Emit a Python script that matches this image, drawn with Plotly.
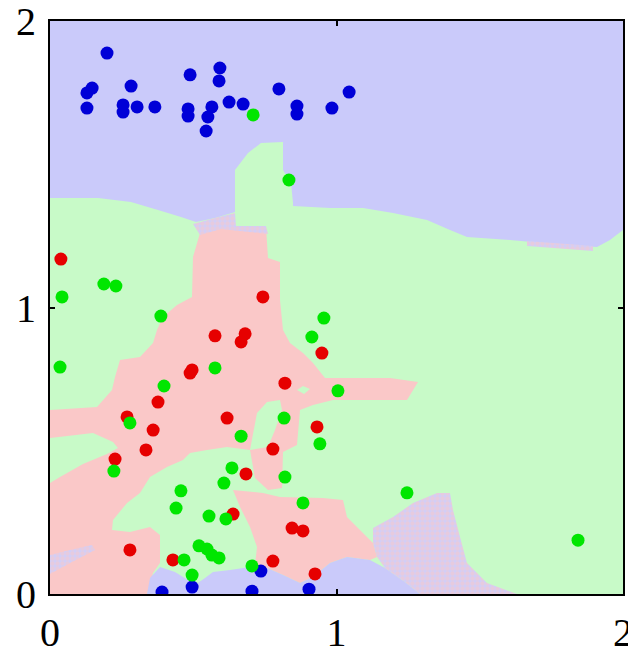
import plotly.graph_objects as go

# ---------------- class samples (data units) ----------------
blue_x = [0.199, 0.147, 0.129, 0.129, 0.283, 0.255, 0.255, 0.304, 0.366, 0.489, 0.482, 0.482,
          0.593, 0.590, 0.565, 0.551, 0.545, 0.625, 0.674, 0.799, 0.862, 0.862, 1.044, 0.984,
          0.391, 0.496, 0.705, 0.736, 0.904]
blue_y = [1.888, 1.766, 1.749, 1.696, 1.773, 1.707, 1.682, 1.700, 1.700, 1.812, 1.693, 1.668,
          1.836, 1.791, 1.700, 1.665, 1.616, 1.717, 1.710, 1.763, 1.703, 1.675, 1.752, 1.696,
          0.007, 0.024, 0.010, 0.080, 0.017]

green_x = [0.709, 0.834, 0.042, 0.188, 0.230, 0.387, 0.035, 0.576, 0.398, 0.279, 0.667, 0.817,
           0.635, 0.607, 0.820, 0.223, 0.457, 0.440, 0.555, 0.614, 0.883, 0.520, 0.548, 0.565,
           0.590, 0.468, 0.496, 0.705, 0.956, 0.914, 1.005, 0.942, 1.246, 1.843]
green_y = [1.672, 1.445, 1.037, 1.082, 1.075, 0.970, 0.792, 0.789, 0.726, 0.597, 0.551, 0.614,
           0.440, 0.387, 0.408, 0.429, 0.360, 0.300, 0.272, 0.262, 0.318, 0.168, 0.157, 0.136,
           0.126, 0.119, 0.066, 0.098, 0.963, 0.897, 0.709, 0.524, 0.353, 0.188]

red_x = [0.038, 0.743, 0.576, 0.681, 0.667, 0.496, 0.489, 0.949, 0.820, 0.377, 0.269, 0.360,
         0.618, 0.335, 0.227, 0.778, 0.932, 0.684, 0.639, 0.845, 0.883, 0.279, 0.429, 0.778, 0.925]
red_y = [1.169, 1.037, 0.901, 0.908, 0.880, 0.782, 0.771, 0.841, 0.736, 0.670, 0.618, 0.572,
         0.614, 0.503, 0.471, 0.506, 0.583, 0.419, 0.279, 0.230, 0.220, 0.154, 0.119, 0.115, 0.070]

tick_vals = [0, 1, 2]
tick_text = ["0", "1", "2"]

# ---------------- decision regions (polygon vertices, data units) ----------------
blue_top_x = [0, 2, 2, 1.9546, 1.9092, 1.7801, 1.7208, 1.6056, 1.4555, 1.3962, 1.3159, 1.1972,
              1.0925, 0.9773, 0.8482, 0.8482, 0.8412, 0.8133, 0.8133, 0.7365, 0.6911, 0.6457,
              0.6457, 0.5759, 0.5096, 0.4572, 0.3770, 0.2827, 0.1675, 0]
blue_top_y = [2, 2, 1.2705, 1.2356, 1.2112, 1.2182, 1.2251, 1.2356, 1.2461, 1.2705, 1.3054, 1.3298,
              1.3473, 1.3473, 1.3543, 1.3647, 1.4346, 1.4799, 1.5777, 1.5742, 1.5393, 1.4799,
              1.3333, 1.3124, 1.2984, 1.3159, 1.3403, 1.3682, 1.3822, 1.3822]

pink_main_x = [0.5236, 0.5969, 0.7539, 0.7609, 0.8028, 0.8028, 0.8133, 0.8377, 0.8831, 0.9180,
               0.9599, 1.1867, 1.2845, 1.2461, 0.9878, 0.9180, 0.8726, 0.8621, 0.8133, 0.8098,
               0.7609, 0.7155, 0.6981, 0.6178, 0.5480, 0.4887, 0.4642, 0.4084, 0.3490, 0.3141,
               0.2688, 0.2199, 0.2164, 0.2792, 0.3490, 0.3839, 0.3839, 0.3595, 0.3386, 0,
               0, 0.1640, 0.2164, 0.2269, 0.2443, 0.3141, 0.3595, 0.3735, 0.3944, 0.4433,
               0.4956, 0.4991]
pink_main_y = [1.2600, 1.2810, 1.2810, 1.1728, 1.1588, 1.0262, 0.9215, 0.8761, 0.8412, 0.8063,
               0.7539, 0.7539, 0.7400, 0.6771, 0.6771, 0.6597, 0.6422, 0.5201, 0.4956, 0.3700,
               0.3630, 0.4049, 0.5026, 0.5131, 0.5026, 0.4921, 0.4677, 0.4433, 0.4084, 0.3525,
               0.3176, 0.2583, 0.2234, 0.2164, 0.2339, 0.2059, 0.1082, 0.0733, 0, 0,
               0.6422, 0.6527, 0.7120, 0.7574, 0.8168, 0.8272, 0.8761, 0.9215, 0.9668, 1.0087,
               1.0366, 1.1763]

pink_low_x = [0.6387, 0.7435, 0.8028, 0.9529, 1.0227, 1.0366, 1.0820, 1.1274, 1.1414, 1.1169,
              1.0366, 0.9773, 0.9180, 0.8726, 0.8133, 0.7574, 0.7155, 0.7225, 0.6981, 0.6632]
pink_low_y = [0.3630, 0.3525, 0.3386, 0.3351, 0.3281, 0.2688, 0.2234, 0.1780, 0.1291, 0.1187,
              0.1291, 0.1082, 0.0593, 0.0384, 0.0663, 0.0908, 0.1012, 0.1640, 0.2339, 0.3037]

green_strip_x = [0.6981, 0.7225, 0.7574, 0.8028, 0.8098, 0.7853, 0.7609]
green_strip_y = [0.5026, 0.6318, 0.6702, 0.6771, 0.6422, 0.5724, 0.5131]

green_wedge_x = [0, 0.1501, 0.2199, 0.2373, 0.1990, 0.1152, 0.0349, 0]
green_wedge_y = [0.5445, 0.5620, 0.5305, 0.5096, 0.4887, 0.4538, 0.4084, 0.3874]

green_oval_x = [0.8621, 0.8831, 0.9075, 0.8866]
green_oval_y = [0.7120, 0.7260, 0.7155, 0.6981]

blue_bottom_x = [0.3386, 0.3490, 0.3839, 0.4363, 0.4817, 0.5061, 0.5410, 0.5689, 0.6283, 0.6981,
                 0.7574, 0.8133, 0.8726, 0.9180, 0.9773, 1.0366, 1.1169, 1.1693, 1.2391, 1.2914]
blue_bottom_y = [0, 0.0558, 0.0942, 0.0768, 0.0489, 0.0314, 0.0558, 0.0768, 0.0838, 0.0942,
                 0.0908, 0.0663, 0.0384, 0.0593, 0.1082, 0.1291, 0.1187, 0.0908, 0.0419, 0]

mix_top_x = [0.4991, 0.5759, 0.6457, 0.6492, 0.7539, 0.7609, 0.5969, 0.5236]
mix_top_y = [1.2914, 1.3124, 1.3298, 1.2845, 1.2845, 1.2565, 1.2740, 1.2530]

mix_right_x = [1.6649, 1.8953, 1.8953, 1.6649]
mix_right_y = [1.2321, 1.2147, 1.1972, 1.2147]

mix_low_x = [1.1274, 1.1972, 1.2670, 1.3508, 1.3962, 1.4066, 1.4311, 1.4555, 1.5253, 1.6300,
             1.2914, 1.2391, 1.1693, 1.1414, 1.1274]
mix_low_y = [0.2304, 0.2688, 0.3176, 0.3525, 0.3525, 0.2932, 0.1990, 0.1082, 0.0384, 0,
             0, 0.0419, 0.0908, 0.1291, 0.1780]

mix_left_x = [0, 0.0698, 0.1466, 0.1571, 0.0768, 0]
mix_left_y = [0.1361, 0.1536, 0.1710, 0.1536, 0.1117, 0.0698]

# ---------------- colours ----------------
C_BLUE_BG = "rgb(202,202,250)"
C_GREEN_BG = "rgb(200,250,200)"
C_PINK_BG = "rgb(250,200,200)"
C_MIX_BG = "rgb(210,206,246)"
C_BLUE = "rgb(0,0,215)"
C_GREEN = "rgb(0,230,0)"
C_RED = "rgb(230,0,0)"

fig = go.Figure()


def region(xs, ys, color, pattern=None):
    kw = dict(x=xs, y=ys, mode="none", fill="toself", fillcolor=color,
              hoverinfo="skip", showlegend=False)
    if pattern is not None:
        kw["fillpattern"] = pattern
    fig.add_trace(go.Scatter(**kw))


speckle = dict(shape=".", fgcolor=C_PINK_BG, bgcolor=C_MIX_BG, size=5, solidity=0.6)

region(blue_top_x, blue_top_y, C_BLUE_BG)
region(pink_main_x, pink_main_y, C_PINK_BG)
region(pink_low_x, pink_low_y, C_PINK_BG)
region(green_strip_x, green_strip_y, C_GREEN_BG)
region(green_wedge_x, green_wedge_y, C_GREEN_BG)
region(green_oval_x, green_oval_y, C_GREEN_BG)
region(blue_bottom_x, blue_bottom_y, C_BLUE_BG)
region(mix_top_x, mix_top_y, C_MIX_BG, speckle)
region(mix_right_x, mix_right_y, C_MIX_BG, speckle)
region(mix_low_x, mix_low_y, C_MIX_BG, speckle)
region(mix_left_x, mix_left_y, C_MIX_BG, speckle)

for xs, ys, col in [(blue_x, blue_y, C_BLUE), (red_x, red_y, C_RED), (green_x, green_y, C_GREEN)]:
    fig.add_trace(go.Scatter(x=xs, y=ys, mode="markers",
                             marker=dict(size=13, color=col, line=dict(width=0)),
                             showlegend=False, hoverinfo="skip"))

axis_common = dict(range=[0, 2], tickvals=tick_vals, ticktext=tick_text,
                   showgrid=False, zeroline=False, showline=True, linecolor="black",
                   linewidth=2, mirror="ticks", ticks="inside", ticklen=5, tickwidth=2,
                   tickcolor="black", ticklabeloverflow="allow",
                   tickfont=dict(family="Liberation Serif, Times New Roman, serif",
                                 size=40, color="black"))

fig.update_layout(
    width=628, height=650,
    margin=dict(l=50, r=5, t=21, b=56, autoexpand=False),
    paper_bgcolor="white",
    plot_bgcolor=C_GREEN_BG,
    xaxis=dict(**axis_common, ticklabelstandoff=2),
    yaxis=dict(**axis_common, ticklabelstandoff=4),
    showlegend=False,
)

fig.write_html("out.html")
